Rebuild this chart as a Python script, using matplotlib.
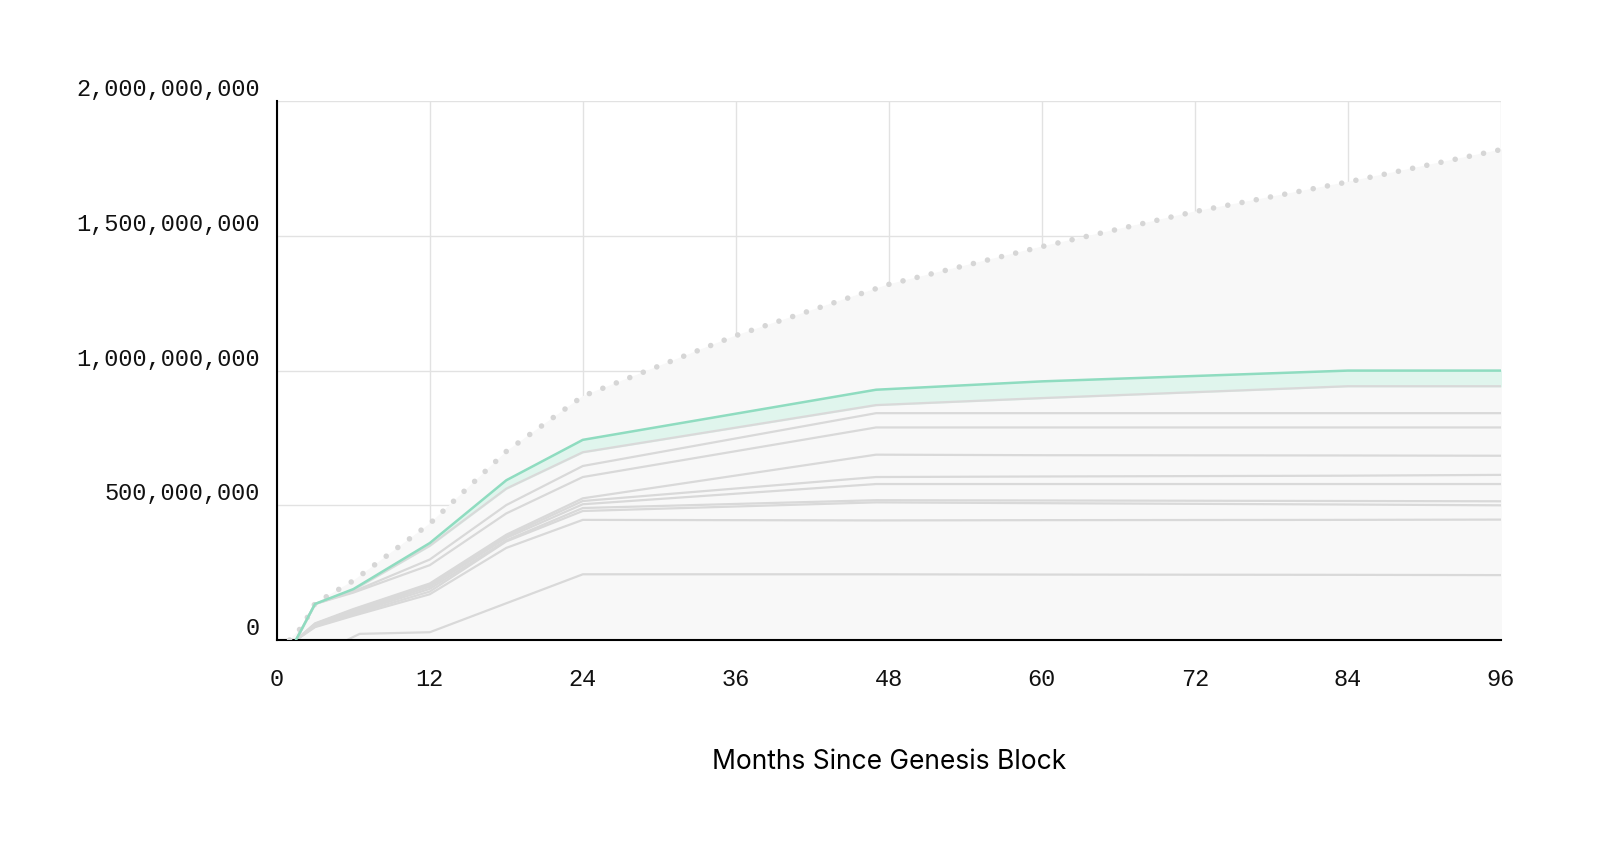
import numpy as np
import matplotlib.pyplot as plt
from matplotlib.ticker import FuncFormatter

# months since genesis block
meses = [1.5, 3, 6, 12, 18, 24, 47, 60, 84, 96]

# supply curve (dotted)
meses_max = [1, 2, 3, 6, 12, 18, 24, 36, 48, 60, 72, 84, 96]
oferta_max = [0, 50e6, 136e6, 220e6, 432e6, 700e6, 905e6, 1130e6, 1320e6, 1460e6, 1590e6, 1700e6, 1820e6]

# highlighted series (green)
verde = [0, 134e6, 189e6, 360e6, 593e6, 743e6, 929e6, 960e6, 1000e6, 1000e6]

# grey series
grises = [
    [0, 134e6, 186e6, 350e6, 562e6, 697e6, 872e6, 898e6, 942e6, 942e6],
    [0, 134e6, 180e6, 299e6, 501e6, 646e6, 842e6, 842e6, 842e6, 842e6],
    [0, 134e6, 176e6, 278e6, 470e6, 605e6, 789e6, 789e6, 789e6, 789e6],
    [0, 62e6, 115e6, 210e6, 391e6, 526e6, 688e6, 686e6, 685e6, 684e6],
    [0, 60e6, 110e6, 205e6, 385e6, 516e6, 605e6, 607e6, 610e6, 613e6],
    [0, 56e6, 105e6, 198e6, 379e6, 504e6, 579e6, 579e6, 579e6, 579e6],
    [0, 54e6, 100e6, 190e6, 370e6, 490e6, 519e6, 518e6, 516e6, 515e6],
    [0, 50e6, 95e6, 180e6, 366e6, 479e6, 511e6, 508e6, 503e6, 500e6],
    [0, 48e6, 90e6, 170e6, 342e6, 446e6, 444e6, 445e6, 446e6, 447e6],
]
meses_bajo = [0, 5.5, 6.5, 12, 24, 47, 60, 84, 96]
gris_bajo = [0, 0, 23e6, 29e6, 244e6, 244e6, 243e6, 242e6, 241e6]

fig = plt.figure(figsize=(16, 8.5), dpi=100)
ax = fig.add_axes([0.173, 0.247, 0.765, 0.634])

ax.fill_between(meses_max, 0, oferta_max, color='#f8f8f8', zorder=1)
ax.plot(meses_max, oferta_max, color='#d6d6d6', lw=4, linestyle=(0, (0.01, 2.6)),
        dash_capstyle='round', zorder=3)

ax.fill_between(meses, grises[0], verde, color='#e0f5ed', zorder=1.5)
for serie in grises:
    ax.plot(meses, serie, color='#d9d9d9', lw=1.6, zorder=2)
ax.plot(meses_bajo, gris_bajo, color='#d9d9d9', lw=1.6, zorder=2)
ax.plot(meses, verde, color='#8fdcc0', lw=1.8, zorder=3)

ax.set_xlim(0, 96)
ax.set_ylim(0, 2e9)
ax.set_xticks(np.arange(0, 97, 12))
ax.set_yticks(np.arange(0, 2.01e9, 5e8))
ax.yaxis.set_major_formatter(FuncFormatter(lambda v, p: f'{v:,.0f}'))
ax.grid(True, color='#e2e2e2', lw=1, zorder=0)
ax.set_axisbelow(True)
for s in ['top', 'right']:
    ax.spines[s].set_visible(False)
for s in ['left', 'bottom']:
    ax.spines[s].set_color('black')
    ax.spines[s].set_linewidth(1.5)
ax.tick_params(length=0, labelsize=17, colors='#111111')
ax.tick_params(axis='x', pad=20)
ax.tick_params(axis='y', pad=12)
for t in ax.get_yticklabels():
    t.set_fontfamily('Liberation Mono')
    t.set_verticalalignment('bottom')
for t in ax.get_xticklabels():
    t.set_fontfamily('Liberation Mono')
ax.set_xlabel('Months Since Genesis Block', fontsize=19, labelpad=42, family='Inter')

plt.savefig('out.png')
